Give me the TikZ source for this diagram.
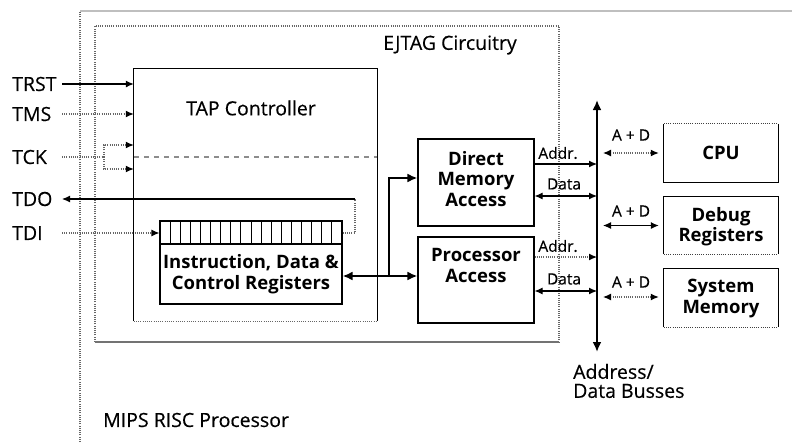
\documentclass[tikz,border=0pt]{standalone}
\usepackage{fontspec}
\setmainfont{Open Sans}
\newfontfamily\medfont{Open Sans}[FakeBold=0.4]
\usetikzlibrary{arrows.meta}
\begin{document}
\begin{tikzpicture}[x=1pt,y=-1pt,
 txt/.style={inner sep=0pt, font=\medfont\fontsize{19.5}{21}\selectfont},
 btxt/.style={inner sep=0pt, align=center, font=\bfseries\fontsize{18.5}{20.5}\selectfont},
 stxt/.style={inner sep=0pt, font=\medfont\fontsize{15.5}{17}\selectfont},
 thinl/.style={line width=1.1pt, draw=black},
 dots/.style={line width=1.2pt, draw=black!60, dash pattern=on 1pt off 1.2pt},
 grayline/.style={line width=1.3pt, draw=black!25},
 dashl/.style={line width=1.1pt, draw=black!45, dash pattern=on 5pt off 5pt},
 tip/.style={-{Latex[length=8pt,width=7pt,black]}},
 tips/.style={{Latex[length=8pt,width=7pt,black]}-{Latex[length=8pt,width=7pt,black]}},
 heavy/.style={line width=2.5pt, draw=black},
 htip/.style={-{Latex[length=10pt,width=9pt]}},
 htips/.style={{Latex[length=10pt,width=9pt]}-{Latex[length=10pt,width=9pt]}},
]
\useasboundingbox (0,0) rectangle (794,442);
\fill[white] (0,0) rectangle (794,442);

% MIPS processor outline
\coordinate (mtl) at (80,11);
\coordinate (mbl) at (80,442);
\coordinate (mtr) at (792,11);
\draw[dots] (mbl) -- (mtl);
\draw[grayline] (mtl) -- (mtr);
\node[txt, anchor=west] (mips) at (103,420) {MIPS RISC Processor};

% EJTAG outline
\coordinate (etl) at (95,26);
\coordinate (etr) at (559,26);
\coordinate (ebl) at (95,342);
\coordinate (ebr) at (559,342);
\draw[dots] (ebl) -- (etl) -- (etr) -- (ebr);
\draw[line width=1.2pt, draw=black!55] (ebl) -- (ebr);
\node[txt] (ejtag) at (450,45) {EJTAG Circuitry};

% TAP controller
\node[inner sep=0pt, minimum width=243pt, minimum height=252pt] (tap) at (255.5,195) {};
\draw[thinl] (tap.south west) -- (tap.north west) -- (tap.north east) -- (tap.south east);
\draw[dots] (tap.south west) -- (tap.south east);
\node[txt] (taplbl) at (251,108) {TAP Controller};

% registers
\node[inner sep=0pt, minimum width=182pt, minimum height=83pt, thinl, draw] (reg) at (251,262.5) {};
\draw[thinl] (reg.west |- 0,244) -- (reg.east |- 0,244);
\foreach \i in {1,...,17} \draw[line width=1pt] (160+\i*10.111,221) -- (160+\i*10.111,244);
\node[btxt] (reglbl) at (251,274) {Instruction, Data \&\\Control Registers};

% pins
\coordinate (px) at (62,0);
\node[txt, anchor=west] (trst) at (12,84) {TRST};
\node[txt, anchor=west] (tms) at (12,114) {TMS};
\node[txt, anchor=west] (tck) at (12,157) {TCK};
\node[txt, anchor=west] (tdo) at (12,199) {TDO};
\node[txt, anchor=west] (tdi) at (12,233) {TDI};

\draw[thinl, tip] (px |- trst) -- (tap.west |- trst);
\draw[dots, tip] (px |- tms) -- (tap.west |- tms);
\coordinate (tckb) at (104,157);
\coordinate (tcka) at (tap.west |- 0,145);
\coordinate (tckc) at (tap.west |- 0,169);
\draw[dots] (px |- tck) -- (tckb);
\draw[dots, tip] (tckb) |- (tcka);
\draw[dots, tip] (tckb) |- (tckc);
\draw[dashl] (tap.west |- tck) -- (tap.east |- tck);
\coordinate (tdoc) at (355,199);
\draw[dots] (reg.east |- 0,233) -| (tdoc);
\draw[thinl, tip] (tdoc) -- (px |- tdo);
\draw[dots, tip] (px |- tdi) -- (reg.west |- tdi);

% DMA and processor access
\node[inner sep=0pt, minimum width=116pt, minimum height=87pt, thinl, draw] (dma) at (476,182.5) {};
\node[btxt] (dmalbl) at (476,179) {Direct\\Memory\\Access};
\node[inner sep=0pt, minimum width=116pt, minimum height=86pt, thinl, draw] (pa) at (476,280) {};
\node[btxt] (palbl) at (476,265.5) {Processor\\Access};

\coordinate (j) at (389,276);
\coordinate (k) at (389,178);
\draw[heavy, htips] (reg.east |- j) -- (pa.west |- j);
\draw[heavy, htip] (j) -- (k) -- (dma.west |- k);

% bus
\coordinate (bt) at (597,100);
\coordinate (bb) at (597,352);
\draw[heavy, htips] (bb) -- (bt);

\draw[thinl, tip] (dma.east |- 0,164) -- (bt |- 0,164);
\node[stxt] (a1) at (558,153) {Addr.};
\draw[thinl, tips] (dma.east |- 0,196) -- (bt |- 0,196);
\node[stxt] (d1) at (564,184) {Data};
\draw[dots, tip] (pa.east |- 0,257) -- (bt |- 0,257);
\node[stxt] (a2) at (558,246) {Addr.};
\draw[thinl, tips] (pa.east |- 0,291) -- (bt |- 0,291);
\node[stxt] (d2) at (564,279) {Data};

% peripherals
\node[inner sep=0pt, minimum width=114pt, minimum height=58pt] (cpu) at (721,153) {};
\node[inner sep=0pt, minimum width=114pt, minimum height=57pt] (dbg) at (721,225.5) {};
\node[inner sep=0pt, minimum width=114pt, minimum height=58pt] (sysm) at (721,298) {};
\draw[thinl] (cpu.north east) -- (cpu.south east) -- (cpu.south west) -- (cpu.north west);
\draw[dots, draw=black!75] (cpu.north west) -- (cpu.north east);
\draw[thinl] (dbg.south west) -- (dbg.north west) -- (dbg.north east) -- (dbg.south east);
\draw[dots, draw=black!75] (dbg.south west) -- (dbg.south east);
\draw[thinl] (sysm.south west) -- (sysm.north west) -- (sysm.north east) -- (sysm.south east);
\draw[dots, draw=black!75] (sysm.south west) -- (sysm.south east);
\node[btxt] (cpulbl) at (cpu) {CPU};
\node[btxt] (dbglbl) at (721,226.5) {Debug\\Registers};
\node[btxt] (syslbl) at (721,298.5) {System\\Memory};

\coordinate (bx) at (603,0);
\draw[dots, tips] (bx |- cpu) -- ([xshift=-5pt]cpu.west);
\node[stxt] (ad1) at (631,135) {A + D};
\draw[thinl, tips] (bx |- dbg) -- ([xshift=-5pt]dbg.west);
\node[stxt] (ad2) at (631,211) {A + D};
\draw[dots, tips] (bx |- 0,297) -- ([xshift=-5pt]sysm.west |- 0,297);
\node[stxt] (ad3) at (631,282) {A + D};

\node[txt, anchor=west, align=left, font=\medfont\fontsize{19.5}{19}\selectfont] (buslbl) at (573,381) {Address/\\Data Busses};
\end{tikzpicture}
\end{document}
